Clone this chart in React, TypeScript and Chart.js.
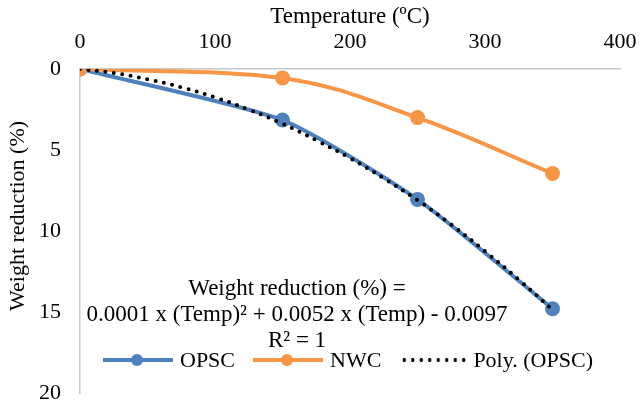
import React, { useEffect, useRef } from "react";
import { Chart, registerables } from "chart.js";

Chart.register(...registerables);

const temps = [0, 150, 250, 350];
const opsc = [0, 3.15, 8.05, 14.8];
const nwc = [0, 0.55, 3.0, 6.45];
const trendTemps = [0, 25, 50, 75, 100, 125, 150, 175, 200, 225, 250, 275, 300, 325, 350];
const trendVals = [0, 0.25, 0.63, 1.13, 1.75, 2.5, 3.38, 4.4, 5.5, 6.75, 8.1, 9.6, 11.25, 13.0, 14.85];
const xTicks = [0, 100, 200, 300, 400];
const yTicks = [0, 5, 10, 15, 20];

const BLUE = "#4f81bd";
const ORANGE = "#f79646";
const FONT = "'Liberation Serif', 'Times New Roman', serif";
const FS = 22;

export default function App() {
  const ref = useRef<HTMLCanvasElement | null>(null);

  useEffect(() => {
    document.body.style.margin = "0";
    const ctx = ref.current!;
    const chart = new Chart(ctx, {
      type: "line",
      data: {
        datasets: [
          {
            label: "Poly. (OPSC)",
            data: trendTemps.map((t, i) => ({ x: t, y: trendVals[i] })),
            borderColor: "#000",
            borderWidth: 4,
            borderDash: [0, 8.5],
            borderCapStyle: "round",
            pointRadius: 0,
            tension: 0.4,
            fill: false,
            order: 0,
          },
          {
            label: "NWC",
            data: temps.map((t, i) => ({ x: t, y: nwc[i] })),
            borderColor: ORANGE,
            backgroundColor: ORANGE,
            borderWidth: 4,
            pointRadius: 7.5,
            pointBorderWidth: 0,
            pointBackgroundColor: ORANGE,
            tension: 0.4,
            fill: false,
            order: 1,
          },
          {
            label: "OPSC",
            data: temps.map((t, i) => ({ x: t, y: opsc[i] })),
            borderColor: BLUE,
            backgroundColor: BLUE,
            borderWidth: 4,
            pointRadius: 7.5,
            pointBorderWidth: 0,
            pointBackgroundColor: BLUE,
            tension: 0.2,
            fill: false,
            order: 2,
          },
        ],
      },
      options: {
        animation: false,
        responsive: true,
        maintainAspectRatio: false,
        layout: { padding: { left: 0, right: 20, top: 0, bottom: 11 } },
        plugins: {
          legend: { display: false },
          tooltip: { enabled: false },
        },
        scales: {
          x: {
            type: "linear",
            position: "top",
            min: 0,
            max: 400,
            afterBuildTicks: (s: any) => {
              s.ticks = xTicks.map((v) => ({ value: v }));
            },
            afterFit: (s: any) => {
              s.height = 69;
              s.paddingLeft = 0;
              s.paddingRight = 0;
            },
            ticks: { color: "#000", font: { family: FONT, size: FS }, padding: 14, maxRotation: 0 },
            grid: { display: false, drawTicks: false },
            border: { display: true, color: "#c8c8c8", width: 1.5 },
            title: {
              display: true,
              text: "Temperature (ºC)",
              color: "#000",
              font: { family: FONT, size: 23 },
              padding: { top: 3, bottom: 0 },
            },
          },
          y: {
            type: "linear",
            reverse: true,
            min: 0,
            max: 20,
            afterBuildTicks: (s: any) => {
              s.ticks = yTicks.map((v) => ({ value: v }));
            },
            afterFit: (s: any) => {
              s.width = 80;
              s.paddingTop = 0;
              s.paddingBottom = 0;
            },
            ticks: { color: "#000", font: { family: FONT, size: FS }, padding: 19 },
            grid: { display: false, drawTicks: false },
            border: { display: true, color: "#c8c8c8", width: 1.5 },
            title: { display: false },
          },
        },
      },
    });
    return () => chart.destroy();
  }, []);

  const textStyle: React.CSSProperties = {
    fontFamily: FONT,
    fontSize: FS,
    color: "#000",
    whiteSpace: "nowrap",
    lineHeight: "26px",
  };

  const lineSample = (color: string) => (
    <span style={{ position: "relative", display: "inline-block", width: 70, height: 14, marginRight: 7 }}>
      <span style={{ position: "absolute", left: 0, right: 0, top: 5, height: 4, background: color }} />
      <span
        style={{
          position: "absolute",
          left: 28,
          top: 1,
          width: 12,
          height: 12,
          borderRadius: "50%",
          background: color,
        }}
      />
    </span>
  );

  return (
    <div style={{ position: "relative", width: 640, height: 404 }}>
      <canvas ref={ref} />
      <div
        style={{
          ...textStyle,
          position: "absolute",
          left: 17,
          top: 216,
          transform: "translate(-50%, -50%) rotate(-90deg)",
        }}
      >
        Weight reduction (%)
      </div>
      <div
        style={{
          ...textStyle,
          fontSize: 23,
          position: "absolute",
          left: 297,
          top: 275,
          transform: "translateX(-50%)",
          textAlign: "center",
        }}
      >
        <div>Weight reduction (%) =</div>
        <div>0.0001 x (Temp)² + 0.0052 x (Temp) - 0.0097</div>
        <div>R² = 1</div>
      </div>
      <div
        style={{
          ...textStyle,
          position: "absolute",
          left: 103,
          top: 347,
          display: "flex",
          alignItems: "center",
        }}
      >
        {lineSample(BLUE)}
        <span style={{ marginRight: 18 }}>OPSC</span>
        {lineSample(ORANGE)}
        <span style={{ marginRight: 19 }}>NWC</span>
        <span
          style={{
            display: "inline-block",
            width: 68,
            height: 4,
            marginRight: 5,
            backgroundImage: "radial-gradient(circle, #000 1.7px, transparent 2px)",
            backgroundSize: "8.5px 4px",
            backgroundRepeat: "repeat-x",
          }}
        />
        <span>Poly. (OPSC)</span>
      </div>
    </div>
  );
}
